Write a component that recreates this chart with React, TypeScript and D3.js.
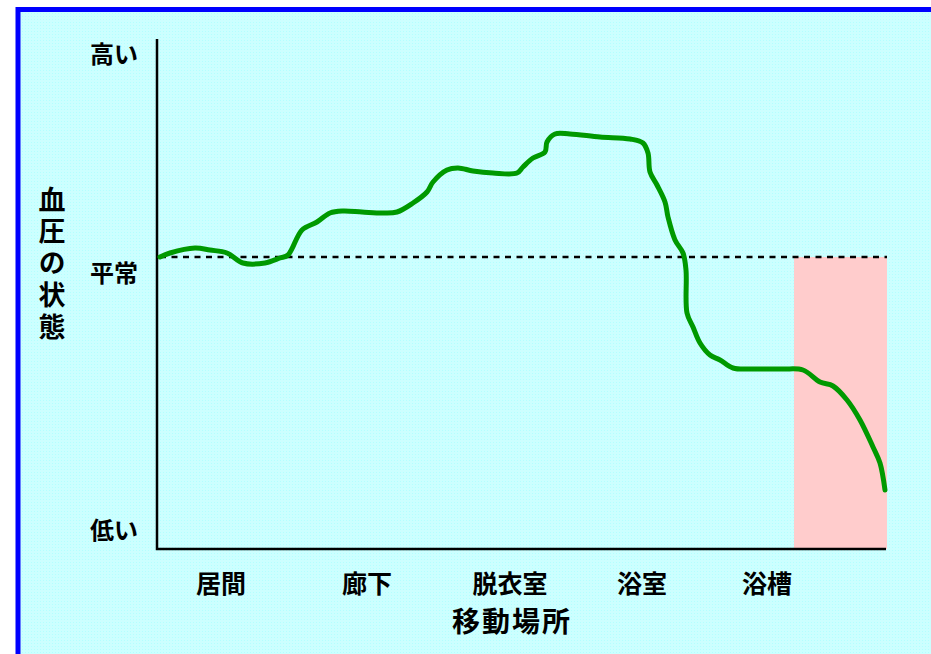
import React from "react";
import * as d3 from "d3";

// x: position along the move (px-offset units from axis origin), y: blood pressure level (units above bottom)
const curveX = [3, 13, 38, 53, 70, 86, 108, 123, 131, 145, 160, 173, 186, 205, 226, 240, 256, 270, 276, 290, 301, 316, 336, 360, 366, 376, 388, 390, 398, 413, 443, 473, 486, 491, 493, 500, 508, 511, 518, 526, 529, 530, 536, 543, 553, 563, 576, 596, 626, 646, 663, 676, 690, 703, 716, 723, 728];
const curveY = [292, 296, 301, 299, 296, 286, 286, 291, 294, 319, 327, 336, 338, 337, 336, 337, 346, 357, 367, 379, 381, 378, 376, 376, 382, 391, 397, 407, 415, 415, 412, 410, 406, 396, 377, 364, 347, 332, 309, 296, 279, 236, 222, 206, 194, 189, 181, 180, 180, 179, 167, 163, 149, 129, 102, 86, 59];

const categories = ["居間", "廊下", "脱衣室", "浴室", "浴槽"];
const categoryPos = [64, 210, 353, 485, 610];

const yTickLabels = ["高い", "平常", "低い"];
const yTickPos = [497, 278, 21];

const normalLevel = 292;
const dangerStart = 637;
const dangerEnd = 730;

const xTitle = "移動場所";
const yTitle = "血圧の状態";

export default function App() {
  const W = 931;
  const H = 654;
  const x = d3.scaleLinear().domain([0, 730]).range([157, 887]);
  const y = d3.scaleLinear().domain([0, 510]).range([549, 39]);

  const pts: [number, number][] = curveX.map((v, i) => [v, curveY[i]]);
  const line = d3
    .line<[number, number]>()
    .x((d) => x(d[0]))
    .y((d) => y(d[1]))
    .curve(d3.curveCatmullRom.alpha(0.5));

  const font = "'Noto Sans CJK JP', 'Noto Sans', sans-serif";

  return (
    <div style={{ position: "fixed", left: 0, top: 0 }}>
      <svg width={W} height={H} style={{ display: "block" }}>
        <defs>
          <pattern id="dots" width="3" height="3" patternUnits="userSpaceOnUse">
            <rect width="3" height="3" fill="#ccffff" />
            <rect x="1" y="1" width="1" height="1" fill="#b3ffff" />
          </pattern>
        </defs>
        <rect x={0} y={0} width={W} height={H} fill="#ffffff" />
        <rect x={18} y={9.5} width={W + 20} height={H + 20} fill="url(#dots)" stroke="#0000ff" strokeWidth={5} />

        {/* danger zone */}
        <rect
          x={x(dangerStart)}
          y={y(normalLevel)}
          width={x(dangerEnd) - x(dangerStart)}
          height={y(0) - y(normalLevel)}
          fill="#ffcccc"
        />

        {/* normal dashed line */}
        <line
          x1={x(3)}
          x2={x(dangerEnd)}
          y1={y(normalLevel)}
          y2={y(normalLevel)}
          stroke="#000"
          strokeWidth={2.5}
          strokeDasharray="6 5.5"
        />

        {/* axes */}
        <path
          d={`M${x(0)},${y(510)}V${y(0)}H${x(dangerEnd - 1)}`}
          fill="none"
          stroke="#000"
          strokeWidth={2.5}
        />

        {/* curve */}
        <path d={line(pts) || ""} fill="none" stroke="#009900" strokeWidth={5} strokeLinejoin="round" strokeLinecap="round" />

        {/* y tick labels */}
        {yTickLabels.map((t, i) => (
          <text
            key={t}
            x={138}
            y={y(yTickPos[i])}
            textAnchor="end"
            dominantBaseline="central"
            fontFamily={font}
            fontWeight="bold"
            fontSize={24}
            fill="#000"
          >
            {t}
          </text>
        ))}

        {/* x category labels */}
        {categories.map((c, i) => (
          <text
            key={c}
            x={x(categoryPos[i])}
            y={582}
            textAnchor="middle"
            dominantBaseline="central"
            fontFamily={font}
            fontWeight="bold"
            fontSize={25}
            fill="#000"
          >
            {c}
          </text>
        ))}

        {/* x title */}
        <text
          x={512}
          y={620}
          textAnchor="middle"
          dominantBaseline="central"
          fontFamily={font}
          fontWeight="bold"
          fontSize={28}
          letterSpacing={2}
          fill="#000"
        >
          {xTitle}
        </text>

        {/* y title (vertical) */}
        <text
          x={52}
          y={186}
          style={{ writingMode: "vertical-rl" } as React.CSSProperties}
          textAnchor="start"
          fontFamily={font}
          fontWeight="bold"
          fontSize={27}
          letterSpacing={4.7}
          fill="#000"
        >
          {yTitle}
        </text>
      </svg>
    </div>
  );
}
